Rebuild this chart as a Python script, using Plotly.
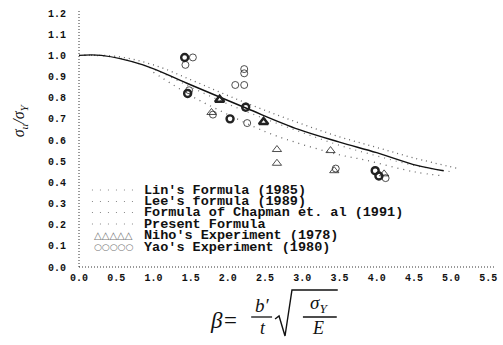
import plotly.graph_objects as go

# ---------------- data ----------------
x_ticks = [0.0, 0.5, 1.0, 1.5, 2.0, 2.5, 3.0, 3.5, 4.0, 4.5, 5.0, 5.5]
y_ticks = [0.0, 0.1, 0.2, 0.3, 0.4, 0.5, 0.6, 0.7, 0.8, 0.9, 1.0, 1.1, 1.2]

present_x = [0.0, 0.3, 0.86, 1.45, 2.25, 2.95, 3.5, 4.0, 4.54, 4.9]
present_y = [1.0, 1.0, 0.955, 0.868, 0.75, 0.65, 0.59, 0.54, 0.48, 0.455]

lin_x = [0.0, 0.5, 1.0, 1.5, 2.0, 2.5, 3.0, 3.5, 4.0, 4.5, 5.1]
lin_y = [1.0, 0.995, 0.955, 0.885, 0.81, 0.74, 0.675, 0.615, 0.565, 0.515, 0.465]

lee_x = [0.0, 0.5, 1.0, 1.5, 2.0, 2.5, 3.0, 3.5, 4.0, 4.5, 5.0]
lee_y = [1.0, 0.99, 0.935, 0.85, 0.77, 0.70, 0.635, 0.575, 0.525, 0.48, 0.45]

chap_x = [1.0, 1.5, 1.8, 2.5, 2.9, 3.5, 3.85, 4.5, 4.9]
chap_y = [0.92, 0.81, 0.755, 0.64, 0.59, 0.53, 0.505, 0.45, 0.43]

yao_x = [1.42, 1.53, 1.43, 1.46, 1.48, 2.24, 2.22, 2.22, 2.22, 2.10, 2.03, 2.26, 3.45, 3.98, 4.03, 4.12, 1.80]
yao_y = [0.99, 0.99, 0.955, 0.82, 0.835, 0.755, 0.935, 0.915, 0.86, 0.86, 0.70, 0.68, 0.465, 0.455, 0.43, 0.42, 0.72]
yao_bold = [1, 0, 0, 1, 0, 1, 0, 0, 0, 0, 1, 0, 0, 1, 1, 0, 0]

niho_x = [1.89, 2.48, 2.66, 2.66, 3.38, 1.78, 3.43, 4.10]
niho_y = [0.79, 0.685, 0.555, 0.49, 0.55, 0.73, 0.455, 0.44]
niho_bold = [1, 1, 0, 0, 0, 0, 0, 0]

legend_labels = ["Lin's Formula (1985)", "Lee's formula (1989)",
                 "Formula of Chapman et. al (1991)", "Present Formula",
                 "Niho's Experiment (1978)", "Yao's Experiment (1980)"]

# ---------------- layout geometry (pixels) ----------------
W_FIG, H_FIG = 503, 345
L, R, T, B = 79, 497, 13, 267
PW, PH = R - L, B - T


def px(x):
    return (x - L) / PW


def py(y):
    return (B - y) / PH


fig = go.Figure()

fig.add_trace(go.Scatter(x=lin_x, y=lin_y, mode="lines", line=dict(color="#666", width=1.3, dash="1px,4px"),
                         line_shape="spline", showlegend=False))
fig.add_trace(go.Scatter(x=lee_x, y=lee_y, mode="lines", line=dict(color="#777", width=1.2, dash="1px,5px"),
                         line_shape="spline", showlegend=False))
fig.add_trace(go.Scatter(x=chap_x, y=chap_y, mode="lines", line=dict(color="#666", width=1.3, dash="1px,5px"),
                         line_shape="spline", showlegend=False))
fig.add_trace(go.Scatter(x=present_x, y=present_y, mode="lines", line=dict(color="#111", width=1.4),
                         line_shape="spline", showlegend=False))

fig.add_trace(go.Scatter(x=yao_x, y=yao_y, mode="markers", showlegend=False,
                         marker=dict(symbol="circle-open", size=7, color="#222",
                                     line=dict(width=[2.4 if b else 0.8 for b in yao_bold], color="#222"))))
fig.add_trace(go.Scatter(x=niho_x, y=niho_y, mode="markers", showlegend=False,
                         marker=dict(symbol="triangle-up-open", size=8, color="#222",
                                     line=dict(width=[2.6 if b else 0.8 for b in niho_bold], color="#222"))))

shapes = []
annotations = []

# axis lines (dotted, as in scan)
shapes.append(dict(type="line", xref="paper", yref="paper", x0=0, x1=0, y0=0, y1=py(11),
                   line=dict(color="#333", width=1, dash="1px,2px")))
shapes.append(dict(type="line", xref="paper", yref="paper", x0=0, x1=px(496), y0=0, y1=0,
                   line=dict(color="#333", width=1, dash="1px,2px")))

# legend
row_y = [190, 201.5, 212.5, 224, 235.5, 247]
mono = "Liberation Mono, Courier New, monospace"
for lbl, ry in zip(legend_labels, row_y):
    annotations.append(dict(xref="paper", yref="paper", x=px(143), y=py(ry), xanchor="left", yanchor="middle",
                            text=lbl, showarrow=False, borderpad=0,
                            font=dict(family=mono, size=13.5, color="#111", weight="bold")))
for ry in row_y[:4]:
    shapes.append(dict(type="line", xref="paper", yref="paper", x0=px(92), x1=px(137), y0=py(ry), y1=py(ry),
                       line=dict(color="#888", width=1, dash="1px,7px")))
annotations.append(dict(xref="paper", yref="paper", x=px(114), y=py(row_y[4]), xanchor="center",
                        yanchor="middle", text="△△△△△", showarrow=False, borderpad=0,
                        font=dict(family="DejaVu Sans", size=10, color="#777")))
annotations.append(dict(xref="paper", yref="paper", x=px(114), y=py(row_y[5]), xanchor="center",
                        yanchor="middle", text="○○○○○", showarrow=False, borderpad=0,
                        font=dict(family="DejaVu Sans", size=9, color="#777")))

# y-axis title
annotations.append(dict(xref="paper", yref="paper", x=px(19), y=py(120), xanchor="center", yanchor="middle",
                        text="σ<sub>u</sub>/σ<sub>Y</sub>", textangle=-90, showarrow=False,
                        font=dict(family="Liberation Serif", size=16, color="#111", style="italic")))

# x-axis formula title
serif = "Liberation Serif, DejaVu Serif, serif"
annotations.append(dict(xref="paper", yref="paper", x=px(210), y=py(320), xanchor="left", yanchor="middle",
                        text="β=", showarrow=False, borderpad=0,
                        font=dict(family=serif, size=23, color="#111", style="italic")))
annotations.append(dict(xref="paper", yref="paper", x=px(263), y=py(305), xanchor="center", yanchor="middle",
                        text="b′", showarrow=False, borderpad=0,
                        font=dict(family=serif, size=19, color="#111", style="italic")))
annotations.append(dict(xref="paper", yref="paper", x=px(264), y=py(328), xanchor="center", yanchor="middle",
                        text="t", showarrow=False, borderpad=0,
                        font=dict(family=serif, size=18, color="#111", style="italic")))
annotations.append(dict(xref="paper", yref="paper", x=px(320), y=py(304), xanchor="center", yanchor="middle",
                        text="σ<sub>Y</sub>", showarrow=False, borderpad=0,
                        font=dict(family=serif, size=19, color="#111", style="italic")))
annotations.append(dict(xref="paper", yref="paper", x=px(319), y=py(328), xanchor="center", yanchor="middle",
                        text="E", showarrow=False, borderpad=0,
                        font=dict(family=serif, size=18, color="#111", style="italic")))
shapes.append(dict(type="line", xref="paper", yref="paper", x0=px(252), x1=px(273), y0=py(317), y1=py(317),
                   line=dict(color="#111", width=1.3)))
shapes.append(dict(type="line", xref="paper", yref="paper", x0=px(304), x1=px(338), y0=py(317), y1=py(317),
                   line=dict(color="#111", width=1.3)))
path = "M {} {} L {} {} L {} {} L {} {} L {} {}".format(
    px(276), py(319), px(280), py(316), px(286), py(336), px(293), py(290), px(339), py(290))
shapes.append(dict(type="path", xref="paper", yref="paper", path=path, line=dict(color="#111", width=1.4)))

tick_font = dict(family=mono, size=10, color="#111", weight="bold")

fig.update_layout(
    width=W_FIG, height=H_FIG,
    margin=dict(l=L, r=W_FIG - R, t=T, b=H_FIG - B, pad=0),
    paper_bgcolor="white", plot_bgcolor="white",
    showlegend=False,
    shapes=shapes, annotations=annotations,
    xaxis=dict(range=[0, 5.59], tickvals=x_ticks, ticktext=["%.1f" % v for v in x_ticks],
               showgrid=False, zeroline=False, showline=False, ticks="", tickfont=tick_font,
               ticklabelstandoff=3, ticklabeloverflow="allow"),
    yaxis=dict(range=[0, 1.2], tickvals=y_ticks, ticktext=["%.1f" % v for v in y_ticks],
               showgrid=False, zeroline=False, showline=False, ticks="", tickfont=tick_font,
               ticklabelstandoff=12, ticklabeloverflow="allow"),
)

fig.write_html("out.html", config={"displayModeBar": False},
               post_script="document.body.style.margin='0';")
